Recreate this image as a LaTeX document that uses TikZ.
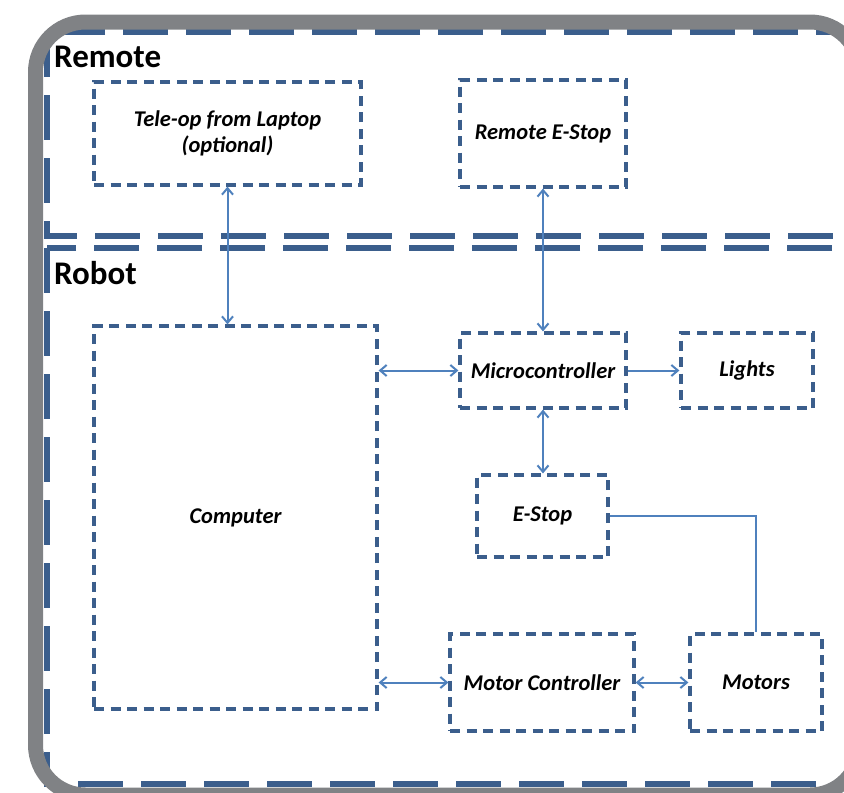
\documentclass[tikz,border=0pt]{standalone}
\usepackage{fontspec}
\setmainfont{Carlito}
\usetikzlibrary{calc,positioning}
\usetikzlibrary{arrows.meta}
\definecolor{boxblue}{RGB}{59,94,140}
\definecolor{linkblue}{RGB}{79,129,189}
\definecolor{framegray}{RGB}{128,130,133}
\tikzset{
  part/.style={draw=boxblue,line width=3.2pt,dash pattern=on 10pt off 6.5pt,
    inner sep=0pt,align=center,font=\fontsize{22.5}{26}\selectfont\bfseries\itshape},
  zone/.style={draw=boxblue,line width=6pt,dash pattern=on 45pt off 18pt},
  zonename/.style={anchor=west,inner sep=0pt,font=\fontsize{33}{38}\selectfont\bfseries},
  link/.style={draw=linkblue,line width=2pt,>={Straight Barb[length=6.5pt,width=11pt]}}
}
\begin{document}
\begin{tikzpicture}[x=1pt,y=-1pt]
  \useasboundingbox (0,0) rectangle (844,793);
  % zones
  \draw[zone] (47,32) rectangle (880,236);
  \draw[zone] (47,248) rectangle (880,784);
  \draw[framegray,line width=15pt,rounded corners=50pt] (35.5,22) rectangle (860,795);
  \node[zonename] (remote) at (54,57) {Remote};
  \node[zonename] (robot) at (54,273) {Robot};
  % blocks
  \node[part,minimum width=267pt,minimum height=103pt] (teleop) at (227.5,133.5) {Tele-op from Laptop\\(optional)};
  \node[part,minimum width=166pt,minimum height=107pt] (restop) at (543,133.5) {Remote E-Stop};
  \node[part,minimum width=283pt,minimum height=383pt] (computer) at (235.5,517.5) {Computer};
  \node[part,minimum width=166pt,minimum height=75pt] (micro) at (543,370.5) {Microcontroller};
  \node[part,minimum width=132pt,minimum height=75pt] (lights) at (747,370.5) {Lights};
  \node[part,minimum width=131pt,minimum height=82pt] (estop) at (542.5,516) {E-Stop};
  \node[part,minimum width=184pt,minimum height=97pt] (motorctl) at (542,682.5) {Motor Controller};
  \node[part,minimum width=132pt,minimum height=97pt] (motors) at (756,682.5) {Motors};
  % links
  \draw[link,<->] (teleop.south) -- (teleop.south |- computer.north);
  \draw[link,<->] (restop.south) -- (micro.north);
  \draw[link,<->] (micro.west -| computer.east) -- (micro.west);
  \draw[link,->] (micro.east) -- (lights.west);
  \draw[link,<->] (micro.south) -- (micro.south |- estop.north);
  \draw[link] (estop.east) -| (motors.north);
  \draw[link,<->] (motorctl.west -| computer.east) -- (motorctl.west);
  \draw[link,<->] (motorctl.east) -- (motors.west);
\end{tikzpicture}
\end{document}
